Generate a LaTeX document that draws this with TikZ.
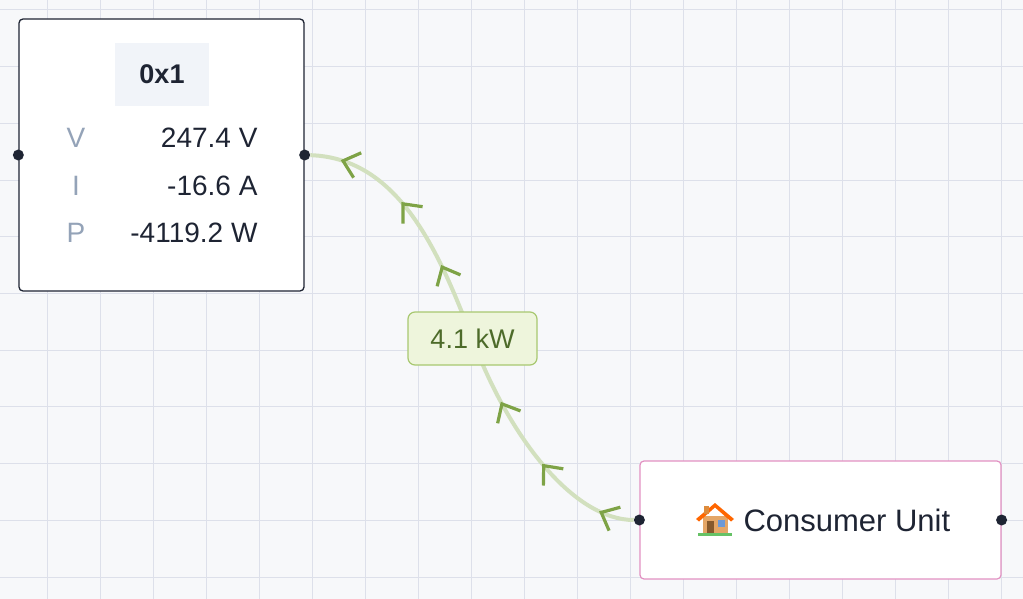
\documentclass[tikz,border=0pt]{standalone}
\usepackage{fontspec}
\setmainfont{Liberation Sans}
\usetikzlibrary{positioning, arrows.meta, calc, decorations.markings}

\definecolor{gridline}{HTML}{DDE0EA}
\definecolor{canvas}{HTML}{F7F8FA}
\definecolor{ink}{HTML}{1E2433}
\definecolor{muted}{HTML}{94A3B8}
\definecolor{headfill}{HTML}{F1F4F9}
\definecolor{pinkline}{HTML}{E291C2}
\definecolor{flowline}{HTML}{D2E0BE}
\definecolor{flowtip}{HTML}{7EA346}
\definecolor{tagfill}{HTML}{EEF5DC}
\definecolor{tagline}{HTML}{A8C870}
\definecolor{tagtext}{HTML}{4D6B2A}

\begin{document}
\begin{tikzpicture}[
    x=1pt, y=-1pt,
    block/.style={rectangle, draw=ink, line width=1.3pt, rounded corners=4pt,
                  fill=white, inner sep=0pt},
    port/.style={circle, fill=ink, inner sep=0pt, minimum size=11pt},
    field/.style={font=\fontsize{28}{32}\selectfont, text=muted},
    reading/.style={font=\fontsize{28}{32}\selectfont, text=ink, anchor=east},
    flow/.style={draw=flowline, line width=4pt,
        postaction={decorate, decoration={markings,
            mark=between positions 0.07 and 0.95 step 0.145 with
            {\arrow[flowtip, line width=3.2pt]{Straight Barb[length=15pt, width=26pt]}}}}},
    tag/.style={rectangle, draw=tagline, line width=1.2pt, fill=tagfill,
                rounded corners=7pt, minimum width=129pt, minimum height=53pt,
                text=tagtext, font=\fontsize{27}{30}\selectfont}
]

    % Canvas and grid
    \fill[canvas] (0,0) rectangle (1023,599);
    \useasboundingbox (0,0) rectangle (1023,599);
    \foreach \gx in {0,...,19} {
        \draw[gridline, line width=1pt] (47+53*\gx,0) -- (47+53*\gx,599);
    }
    \foreach \gy in {0,...,10} {
        \draw[gridline, line width=1pt] (0,10+56.7*\gy) -- (1023,10+56.7*\gy);
    }

    % Meter block
    \node[block, minimum width=285pt, minimum height=272pt] (meter) at (161.5,155) {};
    \fill[headfill] (115,43) rectangle (209,106);
    \node[font=\fontsize{27}{30}\selectfont\bfseries, text=ink] (title) at (162,74) {0x1};
    \node[field] (vlabel) at (76,138) {V};
    \node[field] (ilabel) at (76,186) {I};
    \node[field] (plabel) at (76,233) {P};
    \node[reading] (vvalue) at (261,138) {247.4 V};
    \node[reading] (ivalue) at (261,186) {-16.6 A};
    \node[reading] (pvalue) at (261,233) {-4119.2 W};
    \node[port] (meterin) at (meter.west) {};
    \node[port] (meterout) at (meter.east) {};

    % Consumer unit
    \node[block, draw=pinkline, line width=1.2pt, minimum width=361pt, minimum height=118pt]
        (consumer) at (820.5,520) {};
    \node[font=\fontsize{31}{34}\selectfont, text=ink, anchor=west] (cname) at (740,520) {Consumer Unit};
    % house icon
    \fill[green!60!black!60] (698,533) rectangle (732,536);
    \fill[brown!60!orange!70] (703,516) rectangle (728,533);
    \fill[orange!80!red] (696,519) -- (715,503) -- (734,519) -- (731,521.5) -- (715,507.5) -- (699,521.5) -- cycle;
    \fill[brown!60!orange!90] (704,506) rectangle (708.5,514);
    \fill[brown!70!black] (707,521) rectangle (714,533);
    \fill[cyan!50!blue!60] (718,520) rectangle (725,527);
    \node[port] (cuin) at (consumer.west) {};
    \node[port] (cuout) at (consumer.east) {};

    % Power flow
    \draw[flow] (cuin) .. controls (575,520) and (510,440) .. (472,338)
        .. controls (440,255) and (400,158) .. (meterout);
    \node[tag] (power) at (472.5,338.5) {4.1 kW};

\end{tikzpicture}
\end{document}
